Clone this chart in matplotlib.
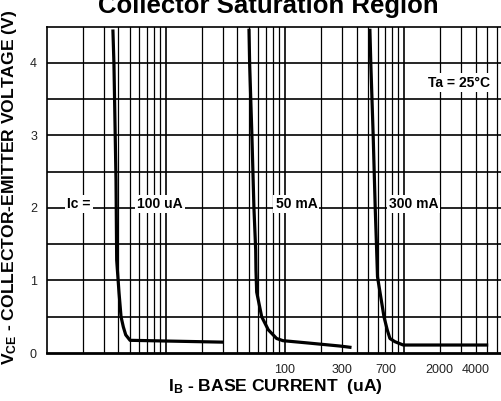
import numpy as np
import matplotlib
matplotlib.use('Agg')
import matplotlib.pyplot as plt

plt.rcParams['font.family'] = ['Liberation Sans', 'DejaVu Sans']
plt.rcParams['mathtext.fontset'] = 'custom'
plt.rcParams['mathtext.bf'] = 'Liberation Sans:bold'
plt.rcParams['mathtext.rm'] = 'Liberation Sans:bold'
plt.rcParams['mathtext.default'] = 'bf'

#=======================================================================================
# Data (IB in uA, VCE in V)
#=======================================================================================

ib_100ua = [3.60, 3.67, 3.82, 3.87, 4.05, 4.21, 4.40, 4.61, 5.01, 29.6]
vce_100ua = [4.44, 3.99, 2.38, 1.28, 0.83, 0.50, 0.36, 0.25, 0.175, 0.15]

ib_50ma = [50.0, 50.6, 52.9, 55.0, 56.9, 57.2, 58.0, 63.9, 72.6, 85.3, 96.4, 152, 290, 352]
vce_50ma = [4.45, 4.00, 2.99, 2.00, 1.42, 1.14, 0.84, 0.50, 0.32, 0.20, 0.17, 0.14, 0.096, 0.079]

ib_300ma = [518, 527, 552, 574, 590, 600, 638, 680, 724, 763, 840, 987, 4950]
vce_300ma = [4.45, 4.00, 2.99, 2.00, 1.42, 1.05, 0.78, 0.50, 0.32, 0.20, 0.156, 0.11, 0.11]

xtick_vals = [100, 300, 700, 2000, 4000]
ytick_vals = [0, 1, 2, 3, 4]

curve_labels = ['100 uA', '50 mA', '300 mA']
label_x = [8.94, 125, 1202]

#=======================================================================================
# Figure
#=======================================================================================

fig = plt.figure(figsize=(5.02, 4.01), dpi=100)
ax = fig.add_axes([46.7/502, 48/401, (523-46.7)/502, (353-26.7)/401])

ax.set_xscale('log')
ax.set_xlim(1, 10000)
ax.set_ylim(0, 4.5)

# grid lines: every 1..9 in each decade, every 0.5 V
for dec in [1, 10, 100, 1000]:
	for m in range(1, 10):
		xv = dec*m
		if xv == 1: continue
		lw = 1.2 if m == 1 else 0.9
		ax.axvline(xv, color='k', lw=lw, zorder=1)
for yv in np.arange(0.5, 4.5, 0.5):
	ax.axhline(yv, color='k', lw=1.2, zorder=1)

ax.set_xticks(xtick_vals)
ax.set_xticklabels([str(v) for v in xtick_vals])
ax.xaxis.set_minor_locator(matplotlib.ticker.NullLocator())
ax.set_yticks(ytick_vals)
ax.tick_params(axis='both', length=0, labelsize=9, labelcolor='#222222')
ax.tick_params(axis='x', pad=8)
ax.tick_params(axis='y', pad=7)

for s in ['left', 'top']:
	ax.spines[s].set_linewidth(1.2)
ax.spines['bottom'].set_linewidth(2.0)
ax.spines['right'].set_visible(False)

ax.plot(ib_100ua, vce_100ua, '-', color='k', lw=2.3, zorder=3)
ax.plot(ib_50ma, vce_50ma, '-', color='k', lw=2.3, zorder=3)
ax.plot(ib_300ma, vce_300ma, '-', color='k', lw=2.3, zorder=3)

box = dict(facecolor='white', edgecolor='none', pad=1.5)
ax.text(1.87, 2.05, 'Ic =', ha='center', va='center', fontsize=10, fontweight='bold', bbox=box, zorder=4)
for lx, lab in zip(label_x, curve_labels):
	ax.text(lx, 2.05, lab, ha='center', va='center', fontsize=10, fontweight='bold', bbox=box, zorder=4)
ax.text(2896, 3.73, 'Ta = 25°C', ha='center', va='center', fontsize=10, fontweight='bold', bbox=box, zorder=4)

fig.text(268.5/502, 1-13/401, 'Collector Saturation Region', ha='center', va='baseline',
	fontsize=18.5, fontweight='bold')
fig.text(10/502, 1-187/401, 'V$_{CE}$ - COLLECTOR-EMITTER VOLTAGE (V)', rotation=90,
	ha='center', va='center', fontsize=12.6, fontweight='bold')
fig.text(275/502, 1-386/401, 'I$_{B}$ - BASE CURRENT  (uA)', ha='center', va='center',
	fontsize=12.6, fontweight='bold')

plt.savefig('out.png', dpi=100)
plt.close()
